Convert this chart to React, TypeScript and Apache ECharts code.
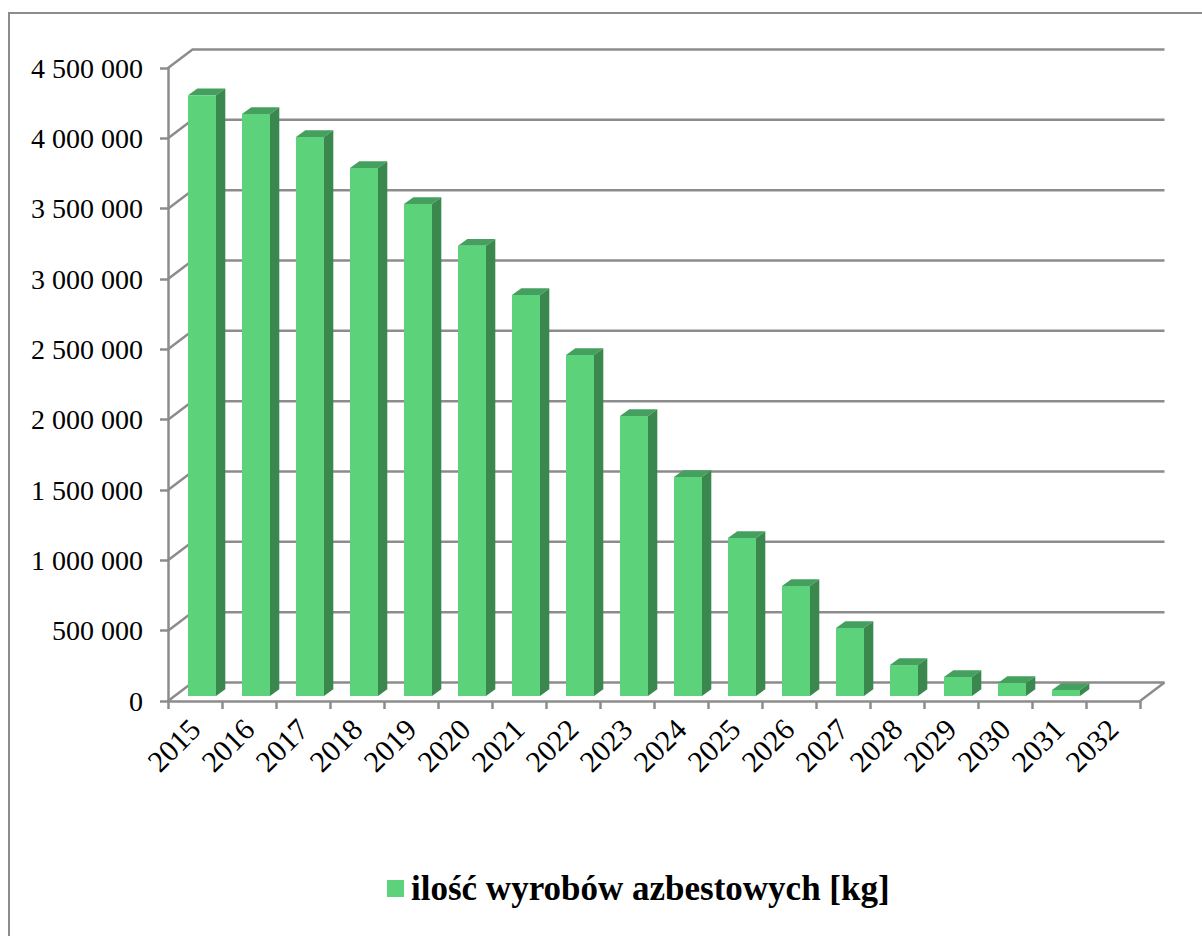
import React, { useEffect, useRef } from "react";
import * as echarts from "echarts";

const categories = ["2015","2016","2017","2018","2019","2020","2021","2022","2023","2024","2025","2026","2027","2028","2029","2030","2031","2032"];
const amounts = [4270000,4137000,3974000,3753000,3498000,3200000,2850000,2424000,1990000,1557000,1123000,782000,483000,220000,135000,92000,43000,0];
const tickValues = [0,500000,1000000,1500000,2000000,2500000,3000000,3500000,4000000,4500000];
const seriesName = "ilość wyrobów azbestowych [kg]";

const FONT = "'Liberation Serif', serif";
const GREY = "#8c8c8c";
const FRONT = "#5cd27a";
const SIDE = "#3a884e";
const TOP = "#45a05f";
const WALL_DX = 24.5;
const WALL_DY = -18.5;

const fmt = (v: number) => String(v).replace(/\B(?=(\d{3})+(?!\d))/g, " ");

export default function App() {
  const ref = useRef<HTMLDivElement>(null);
  useEffect(() => {
    const chart = echarts.init(ref.current!, null, { renderer: "svg" });
    chart.setOption({
      animation: false,
      backgroundColor: "#fff",
      textStyle: { fontFamily: FONT },
      grid: { left: 168, top: 68, width: 972, height: 633, containLabel: false },
      graphic: [
        {
          type: "polyline",
          silent: true,
          shape: { points: [[9, 936], [9, 13], [1202, 13]] },
          style: { stroke: GREY, lineWidth: 2, fill: "none" },
        },
      ],
      legend: {
        left: 387,
        top: 871,
        padding: 0,
        itemWidth: 17,
        itemHeight: 17,
        itemGap: 0,
        data: [{ name: seriesName, icon: "rect", itemStyle: { color: FRONT } }],
        selectedMode: false,
        textStyle: { fontFamily: FONT, fontSize: 35, fontWeight: "bold", color: "#000", padding: [0, 0, 0, 2] },
      },
      xAxis: {
        type: "category",
        data: categories,
        boundaryGap: true,
        axisLine: { show: true, lineStyle: { color: GREY, width: 2.5 } },
        axisTick: { show: true, length: 8, alignWithLabel: false, lineStyle: { color: GREY, width: 2.5 } },
        axisLabel: { interval: 0, rotate: 45, margin: 23, fontSize: 30, color: "#000", fontFamily: FONT },
        splitLine: { show: false },
      },
      yAxis: {
        type: "value",
        min: 0,
        max: 4500000,
        interval: 500000,
        axisLine: { show: true, lineStyle: { color: GREY, width: 2.5 } },
        axisTick: { show: true, length: 8, lineStyle: { color: GREY, width: 2.5 } },
        axisLabel: { margin: 25, fontSize: 28, color: "#000", fontFamily: FONT, padding: [3, 0, 0, 0], formatter: (v: number) => fmt(v) },
        splitLine: { show: false },
      },
      series: [
        {
          name: "walls",
          type: "custom",
          silent: true,
          z: 1,
          clip: false,
          data: tickValues.map((v) => [0, v]),
          encode: { x: 0, y: 1 },
          renderItem: (_p: any, api: any) => {
            const v = api.value(1);
            const band = api.size([1, 0])[0];
            const [cx, y] = api.coord([0, v]);
            const left = cx - band / 2;
            const right = api.coord([categories.length - 1, v])[0] + band / 2;
            const line = { stroke: GREY, lineWidth: 2.5, fill: "none" };
            const children: any[] = [
              {
                type: "polyline",
                shape: { points: [[left, y], [left + WALL_DX, y + WALL_DY], [right + WALL_DX, y + WALL_DY]] },
                style: line,
              },
            ];
            if (v === 0) {
              children.push({
                type: "line",
                shape: { x1: right, y1: y, x2: right + WALL_DX, y2: y + WALL_DY },
                style: line,
              });
            }
            return { type: "group", children };
          },
        },
        {
          name: seriesName,
          type: "custom",
          z: 3,
          clip: false,
          itemStyle: { color: FRONT },
          data: categories.map((c, i) => [i, amounts[i]]),
          encode: { x: 0, y: 1 },
          renderItem: (_p: any, api: any) => {
            const v = api.value(1);
            if (!v) return { type: "group", children: [] };
            const i = api.value(0);
            const [cx, yTop] = api.coord([i, v]);
            const [, yZero] = api.coord([i, 0]);
            const l = cx - 7;
            const r = cx + 21;
            const t = yTop - 5;
            const b = yZero - 5;
            const dx = 9.3;
            const dy = -6.8;
            return {
              type: "group",
              children: [
                {
                  type: "polygon",
                  shape: { points: [[l, t], [l + dx, t + dy], [r + dx, t + dy], [r, t]] },
                  style: { fill: TOP },
                },
                {
                  type: "polygon",
                  shape: { points: [[r, t], [r + dx, t + dy], [r + dx, b + dy], [r, b]] },
                  style: { fill: SIDE },
                },
                { type: "rect", shape: { x: l, y: t, width: r - l, height: b - t }, style: { fill: FRONT } },
              ],
            };
          },
        },
      ],
    });
    return () => chart.dispose();
  }, []);
  return <div ref={ref} style={{ position: "absolute", left: 0, top: 0, width: 1202, height: 936 }} />;
}
